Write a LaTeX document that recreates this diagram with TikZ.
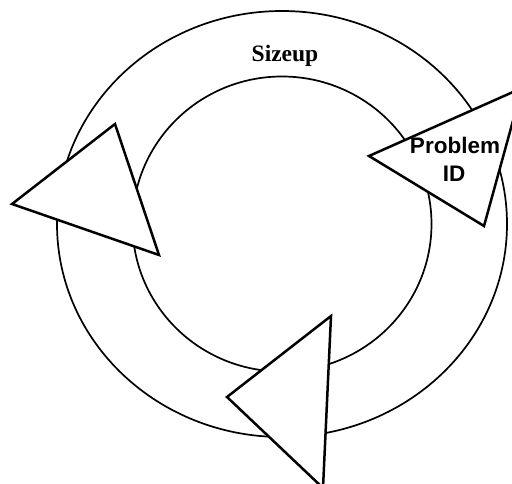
\documentclass[tikz,border=0pt]{standalone}
\usepackage{fontspec}
\newfontfamily\serifbold{Liberation Serif}
\newfontfamily\sansbold{Liberation Sans}
\tikzset{
  ring/.style={line width=1.7bp, draw=black},
  arrowtri/.style={line width=2.5bp, draw=black, fill=white, line join=miter},
  seriflabel/.style={inner sep=0, font=\serifbold\bfseries\fontsize{23.5bp}{28bp}\selectfont},
  sanslabel/.style={inner sep=0, font=\sansbold\bfseries\fontsize{22.5bp}{28bp}\selectfont}
}
\begin{document}
\begin{tikzpicture}[x=1bp,y=-1bp]
\useasboundingbox (0,0) rectangle (512,484);
\clip (0,0) rectangle (512,484);
\fill[white] (0,0) rectangle (512,484);
\coordinate (c) at (282,224);
\draw[ring] (c) ellipse [x radius=225, y radius=213];
\draw[ring] (c) ellipse [x radius=149.5, y radius=147.5];
\draw[arrowtri] (115,124) -- (12,204) -- (159,255) -- cycle;
\draw[arrowtri] (369,156) -- (522,88) -- (484,226) -- cycle;
\draw[arrowtri] (331,316) -- (227,397) -- (323,488) -- cycle;
\node[seriflabel, anchor=base] (sizeup) at (285,62) {Sizeup};
\node[sanslabel, anchor=base] (pid1) at (455,154) {Problem};
\node[sanslabel, anchor=base] (pid2) at (454,182) {ID};
\end{tikzpicture}
\end{document}
